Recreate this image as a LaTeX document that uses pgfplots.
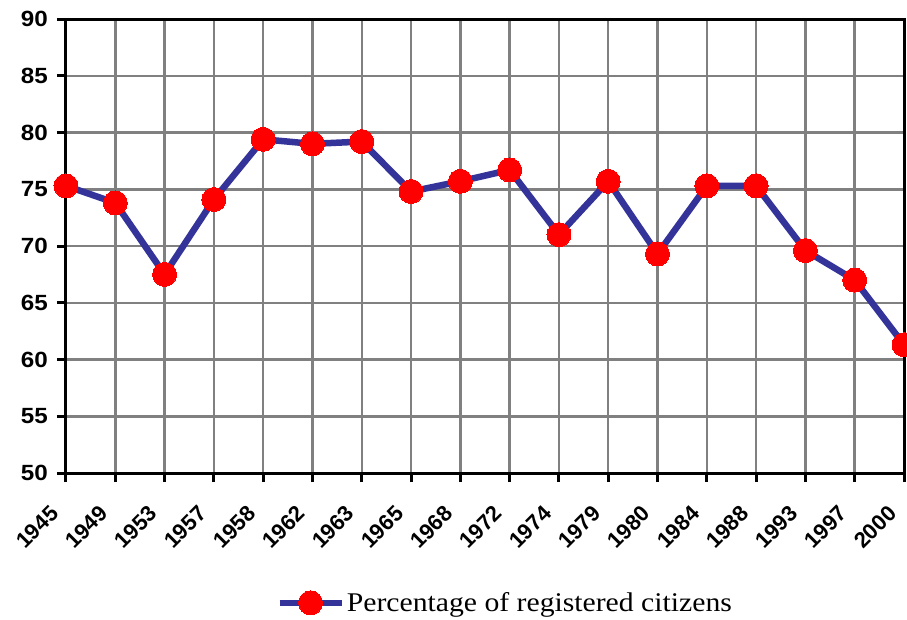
\documentclass[border=0pt]{standalone}
\usepackage{fontspec}
\setmainfont{Liberation Serif}
\newfontfamily\tickfont{Liberation Sans}
\newfontfamily\ytickfont{Liberation Sans}[FakeStretch=1.1]
\newfontfamily\legfont{Liberation Serif}[FakeStretch=1.1]
\usepackage{pgfplots}
\pgfplotsset{compat=1.18}
\definecolor{lineblue}{HTML}{333399}
\begin{document}
\begin{tikzpicture}
\useasboundingbox (-66pt,-146pt) rectangle (841pt,473pt);
\begin{axis}[
  at={(0pt,0pt)}, anchor=south west,
  scale only axis, width=838pt, height=454pt,
  xmin=0, xmax=17, ymin=50, ymax=90,
  xtick={0,...,17},
  xticklabels={1945,1949,1953,1957,1958,1962,1963,1965,1968,1972,1974,1979,1980,1984,1988,1993,1997,2000},
  ytick={50,55,...,90},
  xtick pos=bottom, ytick pos=left,
  grid=major,
  major grid style={draw=gray, line width=2.5pt},
  axis line style={line width=3pt, black},
  every tick/.style={black, line width=3pt},
  tick align=outside, major tick length=9pt,
  /pgf/number format/assume math mode=true,
  yticklabel style={font=\ytickfont\bfseries\fontsize{22}{24}\selectfont, inner sep=0pt, xshift=-9pt},
  xticklabel style={font=\tickfont\bfseries\fontsize{22}{24}\selectfont, xshift=-17pt, yshift=-22pt, rotate=45, anchor=north east, inner sep=0pt},
  legend style={at={(0.524,-0.286)}, anchor=center, draw=none, fill=none,
    font=\legfont\fontsize{27}{28}\selectfont, inner sep=0pt},
  legend image code/.code={\draw[mark repeat=2, mark phase=2, #1] plot coordinates {(0pt,0pt) (31pt,0pt) (62pt,0pt)};},
]
\addplot[color=lineblue, line width=6.5pt, mark=*, mark size=12pt,
  mark options={fill=red, draw=red, line width=0pt}]
  coordinates {
  (0,75.3) (1,73.8) (2,67.5) (3,74.1) (4,79.4) (5,79.0) (6,79.2) (7,74.8)
  (8,75.7) (9,76.7) (10,71.0) (11,75.7) (12,69.3) (13,75.3) (14,75.3)
  (15,69.6) (16,67.0) (17,61.3)};
\addlegendentry{Percentage of registered citizens}
\end{axis}
\end{tikzpicture}
\end{document}
